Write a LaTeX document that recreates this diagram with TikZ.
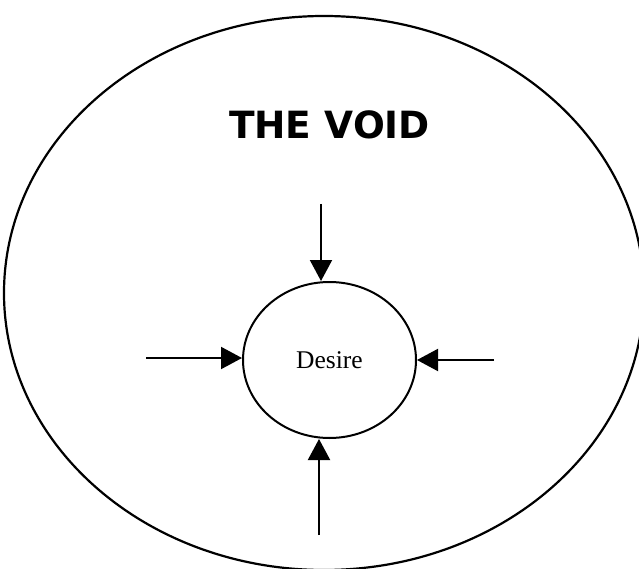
\documentclass[tikz,border=0pt]{standalone}
\usepackage{fontspec}
\setmainfont{Liberation Serif}
\newfontfamily\titlefont{DejaVu Sans}
\usepackage{tikz}
\usetikzlibrary{arrows.meta, positioning, shapes.geometric}

\begin{document}
\begin{tikzpicture}[x=1pt, y=-1pt,
  outer/.style={ellipse, draw, line width=2.2pt, inner sep=0pt,
                minimum width=640pt, minimum height=554pt},
  inner/.style={ellipse, draw, line width=2pt, inner sep=0pt,
                minimum width=173pt, minimum height=156pt,
                font=\fontsize{25.5}{30}\selectfont},
  push/.style={-{Triangle[length=21pt, width=22pt]}, line width=2pt}
]
\useasboundingbox (0,0) rectangle (639,569);
\clip (0,0) rectangle (639,569);

\node[outer] (void) at (324, 293) {};
\node[font=\titlefont\bfseries\fontsize{37.5}{40}\selectfont] (title)
  at (329.5, 124.5) {THE VOID};

\node[inner] (desire) at (329.5, 360) {Desire};

% the four pushes
\coordinate (fromtop) at (321, 204);
\coordinate (frombot) at (319, 535);
\coordinate (fromlft) at (146, 358);
\coordinate (fromrgt) at (494, 360);

\draw[push] (fromtop) -- (fromtop |- desire.north);
\draw[push] (frombot) -- (frombot |- desire.south);
\draw[push] (fromlft) -- (fromlft -| desire.west);
\draw[push] (fromrgt) -- (fromrgt -| desire.east);

\end{tikzpicture}
\end{document}
